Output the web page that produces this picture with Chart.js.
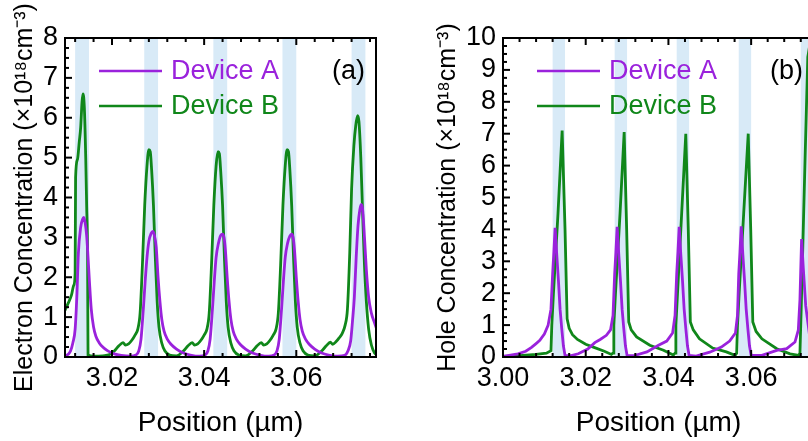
<!DOCTYPE html>
<html>
<head>
<meta charset="utf-8">
<script src="https://cdn.jsdelivr.net/npm/chart.js@4.4.1/dist/chart.umd.min.js"></script>
<style>
  html, body { margin: 0; padding: 0; background: #fff; width: 808px; height: 441px; overflow: hidden; }
  #boxA { position: absolute; left: 0; top: 0; }
  #boxB { position: absolute; left: 404px; top: 0; }
</style>
</head>
<body>
<div id="boxA"><canvas id="chartA" width="404" height="441"></canvas></div>
<div id="boxB"><canvas id="chartB" width="440" height="441"></canvas></div>
<script>
// quantum well positions (um)
const wellStart = [3.012, 3.027, 3.042, 3.057, 3.072];
const wellEnd = [3.015, 3.030, 3.045, 3.060, 3.075];

const seriesNames = ['Device A', 'Device B'];

// (a) electron concentration, x10^18 cm^-3
const elecAx = [3.0098, 3.0105, 3.0110, 3.0115, 3.0120, 3.0124, 3.0127, 3.0132, 3.0136, 3.0139, 3.0142, 3.0145, 3.0148, 3.0151, 3.0155, 3.0160, 3.0165, 3.0172, 3.0180, 3.0190, 3.0205, 3.0220, 3.0240,
  3.0252, 3.0258, 3.0263, 3.0268, 3.0272, 3.0276, 3.0280, 3.0285, 3.0289, 3.0292, 3.0296, 3.0300, 3.0304, 3.0308, 3.0313, 3.0320, 3.0328, 3.0340, 3.0355, 3.0370, 3.0390,
  3.0402, 3.0408, 3.0413, 3.0418, 3.0422, 3.0426, 3.0431, 3.0436, 3.0440, 3.0443, 3.0446, 3.0450, 3.0454, 3.0458, 3.0463, 3.0470, 3.0478, 3.0490, 3.0505, 3.0520, 3.0540,
  3.0552, 3.0558, 3.0563, 3.0568, 3.0572, 3.0576, 3.0581, 3.0586, 3.0590, 3.0593, 3.0596, 3.0600, 3.0604, 3.0608, 3.0613, 3.0620, 3.0628, 3.0640, 3.0655, 3.0670, 3.0690,
  3.0705, 3.0712, 3.0718, 3.0722, 3.0726, 3.0730, 3.0734, 3.0738, 3.0741, 3.0744, 3.0748, 3.0752, 3.0757, 3.0763, 3.0770, 3.0775];
const elecAy = [0.02, 0.07, 0.15, 0.35, 0.7, 1.6, 2.6, 3.25, 3.45, 3.5, 3.35, 3.05, 2.5, 1.9, 1.2, 0.75, 0.52, 0.36, 0.25, 0.16, 0.08, 0.04, 0.02,
  0.05, 0.15, 0.45, 1.2, 1.9, 2.5, 2.9, 3.1, 3.15, 3.05, 2.75, 2.0, 1.4, 0.95, 0.65, 0.45, 0.32, 0.2, 0.1, 0.05, 0.02,
  0.05, 0.15, 0.45, 1.2, 1.9, 2.5, 2.85, 3.05, 3.08, 3.0, 2.7, 2.0, 1.4, 0.95, 0.65, 0.45, 0.32, 0.2, 0.1, 0.05, 0.02,
  0.05, 0.15, 0.45, 1.2, 1.9, 2.5, 2.85, 3.03, 3.08, 3.0, 2.7, 2.0, 1.4, 0.95, 0.65, 0.45, 0.32, 0.2, 0.1, 0.05, 0.02,
  0.04, 0.15, 0.4, 0.9, 1.5, 2.5, 3.3, 3.7, 3.83, 3.7, 3.0, 2.2, 1.5, 1.1, 0.85, 0.68];
const elecBx = [3.0098, 3.0105, 3.0112, 3.0117, 3.0120, 3.0121, 3.0125, 3.0129, 3.0132, 3.0135, 3.0137, 3.0140, 3.0143, 3.0145, 3.0147, 3.0148, 3.0160, 3.0180, 3.0195,
  3.0205, 3.0215, 3.0224, 3.0229, 3.0236, 3.0243, 3.0250, 3.0256, 3.0261, 3.0266, 3.0271, 3.0276, 3.0280, 3.0283, 3.0286, 3.0290, 3.0294, 3.0298, 3.0302, 3.0308, 3.0315, 3.0325, 3.0340,
  3.0355, 3.0365, 3.0374, 3.0379, 3.0386, 3.0393, 3.0400, 3.0406, 3.0411, 3.0416, 3.0421, 3.0426, 3.0430, 3.0433, 3.0436, 3.0440, 3.0444, 3.0448, 3.0452, 3.0458, 3.0465, 3.0475, 3.0490,
  3.0505, 3.0515, 3.0524, 3.0529, 3.0536, 3.0543, 3.0550, 3.0556, 3.0561, 3.0566, 3.0571, 3.0576, 3.0580, 3.0583, 3.0586, 3.0590, 3.0594, 3.0598, 3.0602, 3.0608, 3.0615, 3.0625, 3.0640,
  3.0655, 3.0665, 3.0674, 3.0679, 3.0686, 3.0693, 3.0700, 3.0706, 3.0711, 3.0716, 3.0720, 3.0725, 3.0729, 3.0733, 3.0736, 3.0740, 3.0744, 3.0748, 3.0752, 3.0757, 3.0763, 3.0770, 3.0775];
const elecBy = [1.17, 1.35, 1.55, 1.8, 2.1, 4.5, 4.95, 5.4, 5.75, 6.4, 6.6, 6.25, 5.0, 3.8, 2.5, 0.05, 0.02, 0.03, 0.06,
  0.15, 0.28, 0.36, 0.3, 0.33, 0.42, 0.55, 0.7, 1.1, 2.3, 3.8, 4.8, 5.2, 5.15, 4.7, 3.8, 2.5, 1.4, 0.75, 0.35, 0.15, 0.05, 0.03,
  0.15, 0.28, 0.36, 0.3, 0.33, 0.42, 0.55, 0.7, 1.1, 2.3, 3.8, 4.8, 5.15, 5.1, 4.65, 3.8, 2.5, 1.4, 0.75, 0.35, 0.15, 0.05, 0.03,
  0.15, 0.28, 0.36, 0.3, 0.33, 0.42, 0.55, 0.7, 1.1, 2.3, 3.8, 4.8, 5.2, 5.15, 4.7, 3.8, 2.5, 1.4, 0.75, 0.35, 0.15, 0.05, 0.03,
  0.15, 0.28, 0.37, 0.32, 0.38, 0.48, 0.6, 0.8, 1.2, 2.6, 4.2, 5.3, 5.8, 6.05, 5.9, 5.0, 3.6, 2.3, 1.4, 0.7, 0.3, 0.1, 0.05];

// (b) hole concentration, x10^18 cm^-3
const holeAx = [3.0000, 3.0036, 3.0055, 3.0069, 3.0080, 3.0089, 3.0100, 3.0109, 3.0116, 3.0120, 3.0123, 3.0126, 3.0130, 3.0134, 3.0138, 3.0142, 3.0146, 3.0150,
  3.0165, 3.0182, 3.0205, 3.0222, 3.0235, 3.0250, 3.0260, 3.0266, 3.0270, 3.0273, 3.0276, 3.0280, 3.0284, 3.0288, 3.0292, 3.0296, 3.0300,
  3.0316, 3.0348, 3.0376, 3.0396, 3.0410, 3.0416, 3.0420, 3.0423, 3.0426, 3.0430, 3.0434, 3.0438, 3.0442, 3.0446, 3.0450,
  3.0467, 3.0500, 3.0528, 3.0548, 3.0562, 3.0567, 3.0570, 3.0573, 3.0576, 3.0580, 3.0584, 3.0588, 3.0592, 3.0596, 3.0600,
  3.0626, 3.0662, 3.0686, 3.0706, 3.0714, 3.0718, 3.0722, 3.0726, 3.0732, 3.0738, 3.0745, 3.0760];
const holeAy = [0.02, 0.1, 0.18, 0.3, 0.42, 0.52, 0.72, 0.99, 1.5, 2.6, 3.3, 4.05, 3.2, 2.4, 1.5, 0.9, 0.35, 0.05,
  0.04, 0.1, 0.25, 0.45, 0.55, 0.68, 0.85, 1.3, 2.6, 3.3, 4.08, 3.2, 2.4, 1.5, 0.9, 0.35, 0.05,
  0.04, 0.16, 0.37, 0.5, 0.75, 1.3, 2.6, 3.3, 4.08, 3.2, 2.4, 1.5, 0.9, 0.35, 0.05,
  0.03, 0.15, 0.31, 0.5, 0.75, 1.3, 2.6, 3.3, 4.1, 3.2, 2.4, 1.5, 0.9, 0.35, 0.05,
  0.05, 0.21, 0.26, 0.47, 0.84, 1.8, 3.7, 2.8, 1.6, 1.0, 0.3, 0.05];
const holeBx = [3.0000, 3.0040, 3.0080, 3.0105, 3.0116, 3.0118, 3.0122, 3.0133, 3.0143, 3.0150, 3.0155, 3.0160, 3.0168, 3.0180, 3.0200, 3.0220, 3.0245, 3.0262,
  3.0266, 3.0268, 3.0272, 3.0283, 3.0293, 3.0299, 3.0304, 3.0310, 3.0323, 3.0355, 3.0388, 3.0412,
  3.0416, 3.0418, 3.0422, 3.0432, 3.0442, 3.0448, 3.0453, 3.0460, 3.0475, 3.0507, 3.0540, 3.0561,
  3.0565, 3.0567, 3.0571, 3.0582, 3.0593, 3.0599, 3.0604, 3.0612, 3.0626, 3.0662, 3.0694, 3.0715,
  3.0718, 3.0721, 3.0725, 3.0731, 3.0737, 3.0742, 3.0749, 3.0755, 3.0765];
const holeBy = [0.02, 0.04, 0.08, 0.12, 0.2, 1.0, 2.0, 4.5, 7.1, 4.0, 1.2, 0.9, 0.7, 0.55, 0.4, 0.3, 0.18, 0.08,
  0.12, 1.0, 2.0, 4.5, 7.05, 4.0, 1.1, 0.85, 0.63, 0.37, 0.21, 0.06,
  0.12, 1.0, 2.0, 4.5, 7.0, 4.0, 1.1, 0.85, 0.57, 0.28, 0.16, 0.05,
  0.12, 1.0, 2.0, 4.5, 7.0, 4.0, 1.1, 0.8, 0.57, 0.26, 0.1, 0.05,
  0.12, 1.5, 3.5, 6.5, 9.4, 9.8, 5.0, 1.2, 0.5];

// axis ticks
const xTicksA = [3.02, 3.04, 3.06];
const xTicksB = [3.00, 3.02, 3.04, 3.06];
const yTicksA = [0, 1, 2, 3, 4, 5, 6, 7, 8];
const yTicksB = [0, 1, 2, 3, 4, 5, 6, 7, 8, 9, 10];

const purple = '#9a22dc';
const green = '#10871a';
const bandColor = '#d8eaf7';
const fontName = "'Liberation Sans', Arial, sans-serif";

function pts(xs, ys) {
  return xs.map((x, i) => ({x: x, y: ys[i]}));
}

const panelDecor = {
  id: 'panelDecor',
  beforeDatasetsDraw(chart) {
    const {ctx, chartArea: a} = chart;
    const x = chart.scales.x;
    ctx.save();
    ctx.beginPath();
    ctx.rect(a.left, a.top, a.right - a.left, a.bottom - a.top);
    ctx.clip();
    ctx.fillStyle = bandColor;
    wellStart.forEach((s, i) => {
      const x0 = x.getPixelForValue(s);
      const x1 = x.getPixelForValue(wellEnd[i]);
      ctx.fillRect(x0, a.top, x1 - x0, a.bottom - a.top);
    });
    ctx.restore();
  },
  afterDraw(chart, args, opts) {
    const {ctx, chartArea: a} = chart;
    const x = chart.scales.x, y = chart.scales.y;
    ctx.save();
    ctx.strokeStyle = '#000';
    ctx.lineWidth = 2;
    ctx.strokeRect(a.left, a.top, a.right - a.left, a.bottom - a.top);

    // inward ticks: bottom and top
    const tick = (x0, y0, x1, y1) => { ctx.beginPath(); ctx.moveTo(x0, y0); ctx.lineTo(x1, y1); ctx.stroke(); };
    const xStep = 0.004;
    for (let k = Math.ceil(x.min / xStep - 1e-6); k * xStep <= x.max + 1e-9; k++) {
      const v = k * xStep;
      const major = k % 5 === 0;
      const len = major ? 7 : 4;
      const px = x.getPixelForValue(v);
      tick(px, a.bottom, px, a.bottom - len);
      tick(px, a.top, px, a.top + len);
    }
    // inward ticks: left
    const yStep = 0.25;
    for (let k = Math.ceil(y.min / yStep); k * yStep <= y.max; k++) {
      const len = k % 4 === 0 ? 7 : 4;
      const py = y.getPixelForValue(k * yStep);
      tick(a.left, py, a.left + len, py);
    }

    // legend
    ctx.font = '27px ' + fontName;
    ctx.textBaseline = 'middle';
    ctx.textAlign = 'left';
    chart.data.datasets.forEach((ds, i) => {
      const ly = a.top + 33 + i * 35;
      ctx.strokeStyle = ds.borderColor;
      ctx.lineWidth = 2.5;
      tick(a.left + 34, ly, a.left + 97, ly);
      ctx.fillStyle = ds.borderColor;
      ctx.fillText(ds.label, a.left + 106, ly + 1);
    });

    // panel label
    ctx.fillStyle = '#000';
    ctx.textAlign = 'right';
    ctx.fillText(opts.label, a.right - 11, a.top + 34);
    ctx.restore();
  }
};

function makeChart(id, opt) {
  return new Chart(document.getElementById(id), {
    type: 'line',
    data: {
      datasets: [{
        label: seriesNames[0],
        data: opt.dataA,
        borderColor: purple,
        borderWidth: 2.8,
        pointRadius: 0,
        cubicInterpolationMode: opt.smooth ? 'monotone' : 'default',
        tension: 0
      }, {
        label: seriesNames[1],
        data: opt.dataB,
        borderColor: green,
        borderWidth: 2.8,
        pointRadius: 0,
        cubicInterpolationMode: opt.smooth ? 'monotone' : 'default',
        tension: 0
      }]
    },
    options: {
      responsive: false,
      animation: false,
      devicePixelRatio: 1,
      layout: {
        padding: {left: 0, top: 38, right: opt.padRight, bottom: 0}
      },
      scales: {
        x: {
          type: 'linear',
          min: opt.xMin,
          max: opt.xMax,
          grid: {display: false, drawTicks: false},
          border: {display: false},
          afterBuildTicks: (s) => { s.ticks = opt.xTicks.map(v => ({value: v})); },
          afterFit: (s) => { s.height = 84; },
          ticks: {
            color: '#000',
            padding: 5,
            maxRotation: 0,
            autoSkip: false,
            font: {family: fontName, size: 27},
            callback: (v) => Number(v).toFixed(2)
          },
          title: {
            display: true,
            text: 'Position (µm)',
            color: '#000',
            font: {family: fontName, size: 28},
            padding: {top: 0, bottom: 1}
          }
        },
        y: {
          min: opt.yMin,
          max: opt.yMax,
          grid: {display: false, drawTicks: false},
          border: {display: false},
          afterBuildTicks: (s) => { s.ticks = opt.yTicks.map(v => ({value: v})); },
          afterFit: (s) => { s.width = opt.yWidth; },
          ticks: {
            color: '#000',
            padding: 7,
            autoSkip: false,
            font: {family: fontName, size: 27},
            callback: (v) => String(v)
          },
          title: {
            display: true,
            text: opt.yTitle,
            color: '#000',
            font: {family: fontName, size: 25},
            padding: {top: opt.yTitlePad, bottom: 0}
          }
        }
      },
      plugins: {
        legend: {display: false},
        tooltip: {enabled: false},
        panelDecor: {label: opt.label}
      }
    },
    plugins: [panelDecor]
  });
}

const chartA = makeChart('chartA', {
  dataA: pts(elecAx, elecAy),
  dataB: pts(elecBx, elecBy),
  smooth: true,
  xMin: 3.0098, xMax: 3.0773,
  yMin: 0, yMax: 8,
  xTicks: xTicksA, yTicks: yTicksA,
  yWidth: 65, padRight: 28,
  yTitle: 'Electron Concentration (×10¹⁸cm⁻³)',
  yTitlePad: 10,
  label: '(a)'
});

const chartB = makeChart('chartB', {
  dataA: pts(holeAx, holeAy),
  dataB: pts(holeBx, holeBy),
  smooth: false,
  xMin: 3.0, xMax: 3.0752,
  yMin: 0, yMax: 10,
  xTicks: xTicksB, yTicks: yTicksB,
  yWidth: 99, padRight: 30,
  yTitle: 'Hole Concentration (×10¹⁸cm⁻³)',
  yTitlePad: 29,
  label: '(b)'
});
</script>
</body>
</html>
